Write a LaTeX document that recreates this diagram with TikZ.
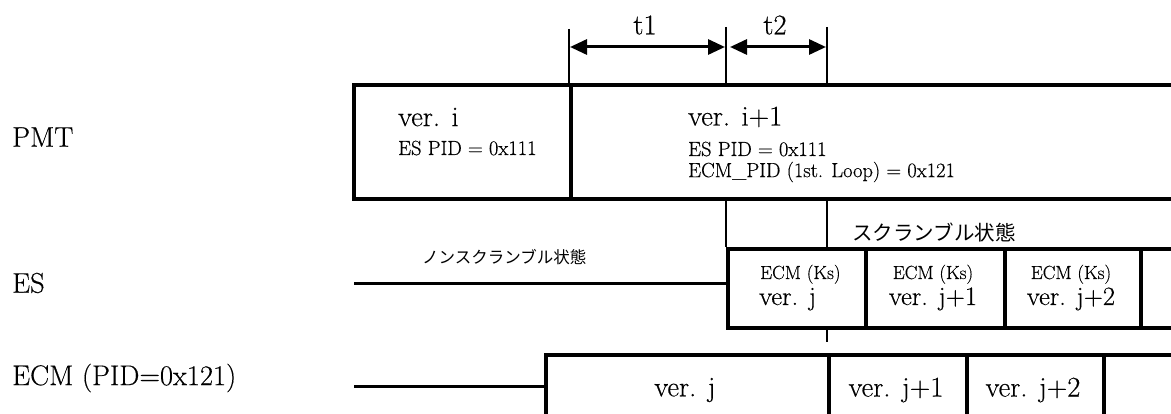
\documentclass[tikz,border=0pt]{standalone}
\usepackage{fontspec}
\setmainfont{Latin Modern Roman}[FakeBold=0.4]
\newfontfamily\jpfont{Noto Sans CJK JP}
\usetikzlibrary{arrows.meta}
\newcommand\txtL{\fontsize{28.5}{32}\selectfont}
\newcommand\txtM{\fontsize{26.5}{30}\selectfont}
\newcommand\txtS{\fontsize{20.5}{23}\selectfont}
\newcommand\txtK{\fontsize{19}{22}\selectfont}
\begin{document}
\begin{tikzpicture}[x=1pt,y=-1pt,
  cellbox/.style={draw,line width=3.8pt,inner sep=0pt,anchor=north west},
  thinline/.style={line width=1.8pt},
  leadline/.style={line width=3pt},
  dimarrow/.style={line width=3pt,{Triangle[length=17pt,width=15pt]}-{Triangle[length=17pt,width=15pt]}},
  lbl/.style={inner sep=0pt,anchor=west,font=\txtL},
  sml/.style={inner sep=0pt,anchor=west,font=\txtS},
  ctrL/.style={inner sep=0pt,font=\txtL},
  esK/.style={inner sep=0pt,anchor=base,font=\txtK},
  esV/.style={inner sep=0pt,anchor=base,font=\txtM}]
\useasboundingbox (0,0) rectangle (1171,414);
\clip (0,0) rectangle (1171,414);

% row labels
\node[lbl] (lpmt) at (12,137) {PMT};
\node[lbl] (les) at (12,283) {ES};
\node[lbl] (lecm) at (12,378) {ECM (PID=0x121)};

% PMT boxes
\node[cellbox,minimum width=217pt,minimum height=114pt] (pmtA) at (352,83) {};
\node[cellbox,minimum width=700pt,minimum height=114pt] (pmtB) at (569,83) {};
\node[lbl] (pa1) at (398,117) {ver. i};
\node[sml] (pa2) at (398,148) {ES PID = 0x111};
\node[lbl] (pb1) at (688,117) {ver. i+1};
\node[sml] (pb2) at (688,149) {ES PID = 0x111};
\node[sml] (pb3) at (688,172) {ECM\_PID (1st. Loop) = 0x121};

% time marks
\coordinate (m0) at (569,29);
\coordinate (m1) at (726,27);
\coordinate (m2) at (827,27);
\draw[thinline] (m0) -- (pmtB.north west);
\draw[thinline] (m1) -- (m1 |- pmtB.north);
\draw[thinline] (m2) -- (m2 |- pmtB.north);
\coordinate (a0) at (570,47);
\coordinate (a1) at (725,47);
\coordinate (a2) at (730,47);
\coordinate (a3) at (826,47);
\draw[dimarrow] (a0) -- (a1);
\draw[dimarrow] (a2) -- (a3);
\node[ctrL] (t1) at (645,25) {t1};
\node[ctrL] (t2) at (775,25) {t2};

% ES row
\node[cellbox,minimum width=138pt,minimum height=79pt] (es1) at (726,247) {};
\node[cellbox,minimum width=139pt,minimum height=79pt] (es2) at (864,247) {};
\node[cellbox,minimum width=136pt,minimum height=79pt] (es3) at (1003,247) {};
\node[cellbox,minimum width=200pt,minimum height=79pt] (es4) at (1139,247) {};
\node[esK,anchor=base west] (e1a) at (760,279) {ECM (Ks)};
\node[esV,anchor=base west] (e1b) at (759,305) {ver. j};
\node[esK] (e2a) at (933,279) {ECM (Ks)};
\node[esV] (e2b) at (933,305) {ver. j+1};
\node[esK] (e3a) at (1071,279) {ECM (Ks)};
\node[esV] (e3b) at (1071,305) {ver. j+2};
\coordinate (esStart) at (354,284);
\draw[leadline] (esStart) -- (esStart -| es1.west);

\draw[thinline] (m1 |- pmtB.south) -- (es1.north west);
\draw[thinline] (m2 |- pmtB.south) -- (m2 |- es1.north);
\coordinate (tick) at (827,342);
\draw[thinline] (m2 |- es1.south) -- (tick);

\node[inner sep=0pt,anchor=west,font={\jpfont\fontsize{16.5}{20}\selectfont}] (nons) at (422,257) {ノンスクランブル状態};
\node[inner sep=0pt,anchor=west,font={\jpfont\fontsize{20.5}{24}\selectfont}] (scr) at (852,233) {スクランブル状態};

% ECM row
\node[cellbox,minimum width=283pt,minimum height=100pt] (c1) at (544,353) {};
\node[cellbox,minimum width=138pt,minimum height=100pt] (c2) at (827,353) {};
\node[cellbox,minimum width=137pt,minimum height=100pt] (c3) at (965,353) {};
\node[cellbox,minimum width=200pt,minimum height=100pt] (c4) at (1102,353) {};
\node[ctrL] (c1t) at (685,390) {ver. j};
\node[ctrL] (c2t) at (896,390) {ver. j+1};
\node[ctrL] (c3t) at (1033,390) {ver. j+2};
\coordinate (ecmStart) at (354,386);
\draw[leadline] (ecmStart) -- (ecmStart -| c1.west);
\end{tikzpicture}
\end{document}
